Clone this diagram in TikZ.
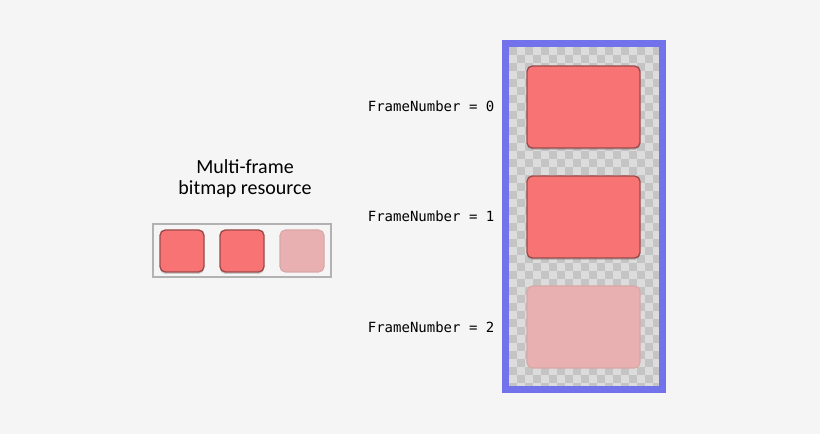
\documentclass[tikz,border=0pt]{standalone}
\usepackage{fontspec}
\newfontfamily\monofam{DejaVu Sans Mono}
\newfontfamily\carfam{Carlito}
\definecolor{bg}{HTML}{F5F5F5}
\definecolor{redf}{HTML}{F87373}
\definecolor{redd}{HTML}{9A4A4A}
\definecolor{pinkf}{HTML}{E8B0B0}
\definecolor{pinkd}{HTML}{D8A8A8}
\definecolor{chk1}{HTML}{DCDCDC}
\definecolor{chk2}{HTML}{C4C4C4}
\definecolor{bluef}{HTML}{7272EA}
\usetikzlibrary{shadows}
\tikzset{
 frame/.style={fill=redf, draw=redd, line width=1pt, rounded corners=4pt, drop shadow={opacity=0.35,shadow xshift=0pt,shadow yshift=-1.5pt}},
 fade/.style={fill=pinkf, draw=pinkd, line width=0.8pt, rounded corners=4pt},
 lbl/.style={anchor=east, font=\monofam\fontsize{10.5}{12}\selectfont},
}
\begin{document}
\begin{tikzpicture}[x=0.75pt,y=-0.75pt]
\fill[bg] (0,0) rectangle (820,434);
\useasboundingbox (0,0) rectangle (820,434);
% right film strip
\fill[bluef] (502,40) rectangle (666,393);
\fill[chk1] (509,47) rectangle (659,386);
\foreach \i in {0,...,18}{\foreach \j in {0,...,42}{
  \pgfmathparse{mod(\i+\j,2)}
  \ifdim\pgfmathresult pt<0.5pt
   \fill[chk2] ({509+8*\i},{47+8*\j}) rectangle ({min(659,509+8*\i+8)},{min(386,47+8*\j+8)});
  \fi}}
\node[frame, minimum width=84.75pt, minimum height=61.5pt, inner sep=0] (f0) at (583.5,107) {};
\node[frame, minimum width=84.75pt, minimum height=61.5pt, inner sep=0] (f1) at (583.5,217) {};
\node[fade, minimum width=84.75pt, minimum height=61.5pt, inner sep=0] (f2) at (583.5,327) {};
\node[lbl] (l0) at (499,106) {FrameNumber = 0};
\node[lbl] (l1) at (499,216) {FrameNumber = 1};
\node[lbl] (l2) at (499,327) {FrameNumber = 2};
% left resource
\node[font=\carfam\fontsize{15}{16}\selectfont, align=center] (t) at (245,179) {Multi-frame\\bitmap resource};
\node[draw=gray!60, fill=bg, line width=0.8pt, minimum width=133.5pt, minimum height=39.75pt, inner sep=0] (box) at (242,250.5) {};
\node[frame, minimum width=33pt, minimum height=31.5pt, inner sep=0] (s0) at (182,251) {};
\node[frame, minimum width=33pt, minimum height=31.5pt, inner sep=0] (s1) at (242,251) {};
\node[fade, minimum width=33pt, minimum height=31.5pt, inner sep=0] (s2) at (302,251) {};
\end{tikzpicture}
\end{document}
